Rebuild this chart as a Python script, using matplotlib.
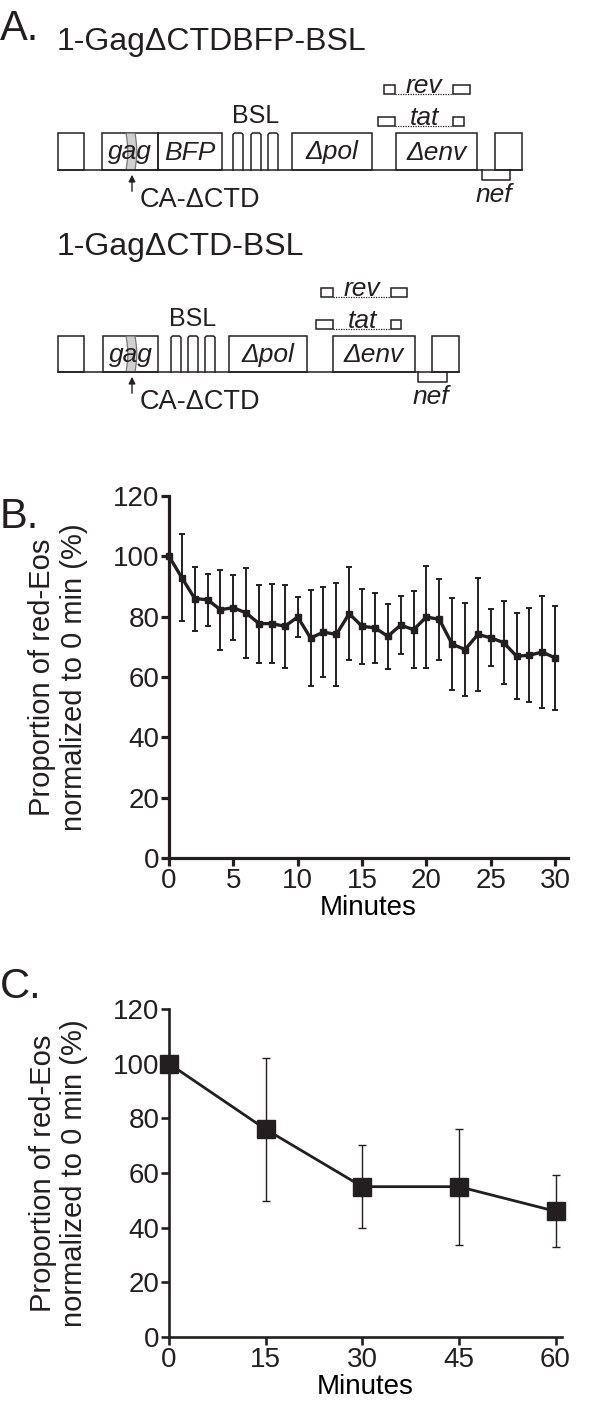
import matplotlib
matplotlib.use("Agg")
import matplotlib.pyplot as plt
from matplotlib.patches import Rectangle, Polygon
import numpy as np

plt.rcParams['font.family'] = ['Liberation Sans', 'DejaVu Sans']

INK = '#231f20'

# --- panel B: time course, 1 min steps ---
b_minutes = list(range(31))
b_mean = [100, 92.9, 86.0, 85.6, 82.3, 83.0, 81.2, 77.7, 77.7, 76.8, 79.9,
          72.9, 74.9, 74.1, 81.0, 76.8, 76.3, 73.5, 77.2, 75.7, 79.9,
          79.1, 70.9, 69.1, 74.1, 73.0, 71.4, 66.9, 67.2, 68.3, 66.3]
b_sd = [0, 14.4, 10.6, 8.7, 13.2, 10.7, 14.9, 12.9, 13.2, 13.8, 6.5,
        16.0, 15.0, 17.2, 15.3, 12.5, 11.7, 10.7, 9.6, 12.8, 17.0,
        13.5, 15.2, 15.4, 18.6, 9.5, 13.7, 14.2, 15.6, 18.7, 17.4]

# --- panel C: time course, 15 min steps ---
c_minutes = [0, 15, 30, 45, 60]
c_mean = [100, 76, 55, 55, 46]
c_sd = [0, 26.2, 15.3, 21.2, 13.2]

y_ticks = [0, 20, 40, 60, 80, 100, 120]
b_xticks = [0, 5, 10, 15, 20, 25, 30]
c_xticks = [0, 15, 30, 45, 60]
ylabel = "Proportion of red-Eos\nnormalized to 0 min (%)"

# --- panel A: construct maps (pixel positions along the map) ---
c1_title = "1-GagΔCTDBFP-BSL"
c1_base, c1_top = 170, 133
c1_boxes = [(58, 84, ""), (102, 158, "gag"), (158, 222, "BFP"),
            (292, 372, "Δpol"), (396, 477, "Δenv"), (495, 522, "")]
c1_loops = [233, 251, 268]
c1_nef = (482, 510)
c1_tat = [(378, 395), (453, 464)]
c1_rev = [(384, 395), (453, 470)]

c2_title = "1-GagΔCTD-BSL"
c2_base, c2_top = 372, 336
c2_boxes = [(58, 84, ""), (103, 158, "gag"),
            (229, 307, "Δpol"), (333, 415, "Δenv"), (432, 459, "")]
c2_loops = [171, 188, 205]
c2_nef = (418, 447)
c2_tat = [(316, 333), (391, 401)]
c2_rev = [(321, 333), (391, 407)]

fig = plt.figure(figsize=(6, 14.11), dpi=100)

# schematic drawn in pixel space over the whole figure
ad = fig.add_axes([0, 0, 1, 1])
ad.set_xlim(0, 600)
ad.set_ylim(1411, 0)
ad.axis('off')


def draw_construct(ax, title, title_y, base, top, boxes, loops, nef, tat, rev):
    ax.text(57, title_y, title, fontsize=23, ha='left', va='baseline', color=INK)
    lw = 1.1
    ax.plot([boxes[0][0], boxes[-1][1]], [base, base], color=INK, lw=lw)
    for x0, x1, lab in boxes:
        ax.add_patch(Rectangle((x0, top), x1 - x0, base - top, fill=False,
                               ec=INK, lw=lw))
        if lab:
            ax.text((x0 + x1) / 2, (top + base) / 2 + 1, lab, fontsize=19,
                    style='italic', ha='center', va='center', color=INK)
    # stem-loops
    w = 10
    for x0 in loops:
        ax.plot([x0, x0, x0 + 1.5, x0 + w - 1.5, x0 + w, x0 + w],
                [base, top + 1.5, top, top, top + 1.5, base], color=INK, lw=lw)
    ax.text(loops[1] + w / 2, top - 17, "BSL", fontsize=18,
            ha='center', va='center', color=INK)
    # gray CA-CTD deletion band inside gag
    gx = 126
    yy = np.linspace(top, base, 12)
    wob = 1.8 * np.sin((yy - top) / (base - top) * np.pi)
    band = Polygon(np.column_stack([np.r_[gx + wob, gx + 9 + wob[::-1]],
                                    np.r_[yy, yy[::-1]]]),
                   closed=True, fc='#c8c8c8', ec='#666666', lw=0.9, alpha=0.85)
    ax.add_patch(band)
    ax.annotate("", xy=(gx + 6, base + 2), xytext=(gx + 6, base + 24),
                arrowprops=dict(arrowstyle='-|>', color=INK, lw=1.0,
                                mutation_scale=10))
    ax.text(140, base + 30, "CA-ΔCTD", fontsize=19.5, ha='left', va='center',
            color=INK)
    # nef
    ax.plot([nef[0], nef[0], nef[1], nef[1]], [base, base + 10, base + 10, base],
            color=INK, lw=lw)
    ax.text((nef[0] + nef[1]) / 2 - 2, base + 25, "nef", fontsize=19,
            style='italic', ha='center', va='center', color=INK)
    # tat / rev exons joined by dotted splice lines
    for exons, y0, lab in [(tat, top - 16, "tat"), (rev, top - 48, "rev")]:
        h = 9
        for x0, x1 in exons:
            ax.add_patch(Rectangle((x0, y0), x1 - x0, h, fill=False, ec=INK, lw=lw))
        ax.plot([exons[0][1], exons[1][0]], [y0 + h, y0 + h], color=INK,
                lw=0.9, ls=(0, (1, 1)))
        ax.text((exons[0][1] + exons[1][0]) / 2, y0 + h - 1, lab, fontsize=19,
                style='italic', ha='center', va='baseline', color=INK)


ad.text(0, 40, "A.", fontsize=30, ha='left', va='baseline', color=INK)
draw_construct(ad, c1_title, 50, c1_base, c1_top, c1_boxes, c1_loops,
               c1_nef, c1_tat, c1_rev)
draw_construct(ad, c2_title, 255, c2_base, c2_top, c2_boxes, c2_loops,
               c2_nef, c2_tat, c2_rev)
ad.text(0, 528, "B.", fontsize=30, ha='left', va='baseline', color=INK)
ad.text(0, 998, "C.", fontsize=30, ha='left', va='baseline', color=INK)


def style_axes(ax, spine_w):
    for s in ['top', 'right']:
        ax.spines[s].set_visible(False)
    for s in ['left', 'bottom']:
        ax.spines[s].set_linewidth(spine_w)
        ax.spines[s].set_color(INK)
    ax.tick_params(direction='out', length=6, width=spine_w, colors=INK,
                   labelsize=20, pad=1)
    ax.set_yticks(y_ticks)
    ax.set_ylim(0, 120)


# panel B
axb = fig.add_axes([169 / 600, 1 - 858 / 1411, 399 / 600, 362 / 1411])
axb.errorbar(b_minutes, b_mean, yerr=b_sd, fmt='-s', color=INK, lw=2.4,
             ms=5, elinewidth=1.4, capsize=2.5, capthick=1.4, clip_on=False)
axb.set_xlim(0, 31)
axb.set_xticks(b_xticks)
style_axes(axb, 2.3)
axb.set_xlabel("Minutes", fontsize=20, labelpad=1)
axb.text(-0.278, 0.5, ylabel, transform=axb.transAxes, rotation=90,
         ha='center', va='center', fontsize=21, linespacing=1.15, color=INK)

# panel C
axc = fig.add_axes([169 / 600, 1 - 1337 / 1411, 393 / 600, 328 / 1411])
axc.errorbar(c_minutes, c_mean, yerr=c_sd, fmt='-s', color=INK, lw=2.0,
             ms=13, elinewidth=1.0, capsize=3, capthick=1.0, clip_on=False)
axc.set_xlim(0, 61)
axc.set_xticks(c_xticks)
style_axes(axc, 1.9)
axc.set_xlabel("Minutes", fontsize=20, labelpad=1)
axc.text(-0.282, 0.5, ylabel, transform=axc.transAxes, rotation=90,
         ha='center', va='center', fontsize=21, linespacing=1.15, color=INK)

fig.savefig("out.png", dpi=100)
